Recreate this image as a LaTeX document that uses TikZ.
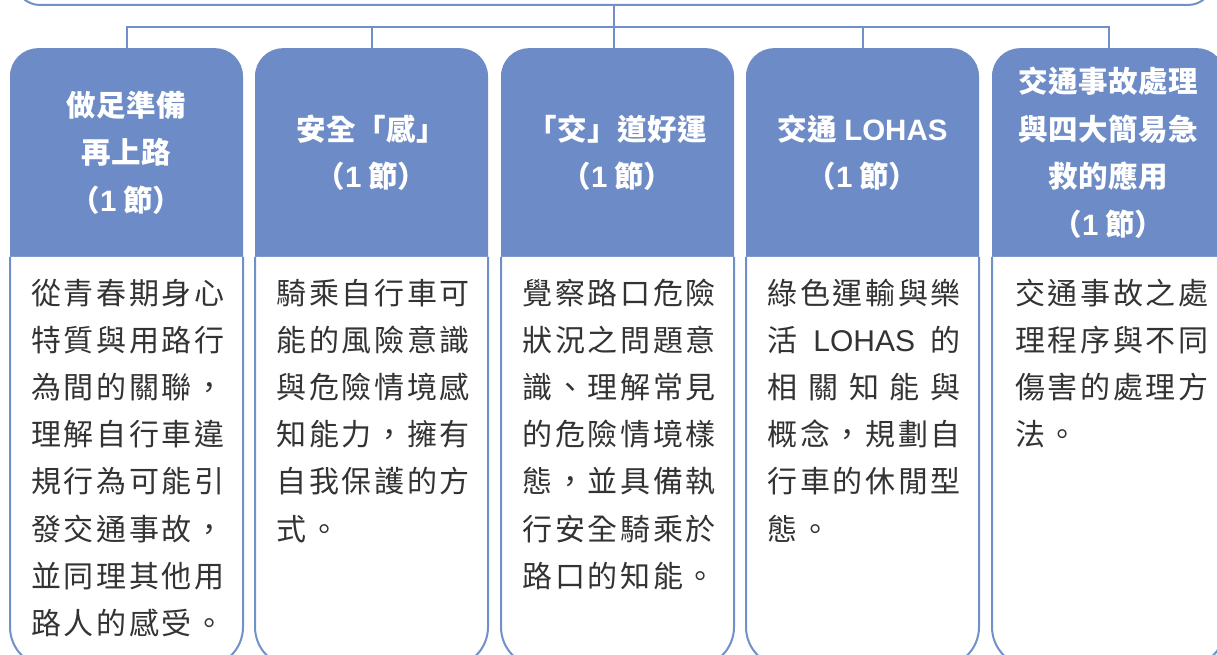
\documentclass[tikz,border=0pt]{standalone}
\usepackage{fontspec}
\newfontfamily\cjk{Noto Sans CJK TC}
\newfontfamily\lat{Liberation Sans}
\definecolor{hdr}{HTML}{6D8BC6}
\definecolor{lnc}{HTML}{7090C8}
\definecolor{txt}{HTML}{333333}
\newlength\cjkpitch
\def\cjkrow#1#2{\setlength\cjkpitch{#1}\cjkrowi#2\relax}
\def\cjkrowi#1{\ifx#1\relax\else\makebox[\cjkpitch][l]{#1}\expandafter\cjkrowi\fi}
\newcommand\hr[1]{\cjkrow{30pt}{#1}}
\newcommand\br[1]{\cjkrow{32.6pt}{#1}}
\newcommand\bodypath[2]{\draw[bodyline] (#1,398) -- (#1,28) arc[start angle=180,end angle=270,radius=40] -- ({#2-40},-12) arc[start angle=270,end angle=360,radius=40] -- (#2,398);}
\begin{document}
\begin{tikzpicture}[x=1pt,y=1pt,
  conn/.style={draw=lnc, line width=2pt},
  hdrbox/.style={fill=hdr, rounded corners=28pt, minimum width=233pt, minimum height=237pt, inner sep=0pt, anchor=north},
  hdrtext/.style={text=white, font=\cjk\bfseries\fontsize{29.5}{47.5}\selectfont, align=center, inner sep=0pt},
  bodytext/.style={text=txt, font=\cjk\fontsize{30}{47.1}\selectfont, align=left, inner sep=0pt, anchor=north west},
  bodyline/.style={draw=lnc, line width=2pt, fill=white},
  topbox/.style={draw=lnc, line width=2pt, fill=white, rounded corners=25pt, minimum width=1198pt, minimum height=80pt, anchor=south}]
\clip (0,0) rectangle (1217,655);
\node[topbox] (top) at (614,649) {};
% headers
\node[hdrbox] (h1) at (126.5,607) {};
\node[hdrbox] (h2) at (371.5,607) {};
\node[hdrbox] (h3) at (617.5,607) {};
\node[hdrbox] (h4) at (862.5,607) {};
\node[hdrbox] (h5) at (1108.5,607) {};
% bodies
\bodypath{10}{243}
\bodypath{255}{488}
\bodypath{501}{734}
\bodypath{746}{979}
\bodypath{992}{1225}
% header texts
\node[hdrtext] (t1) at (126.5,502.5) {\hr{做足準備}\\\hr{再上路}\\（{\lat 1} 節）};
\node[hdrtext] (t2) at (371.5,502.5) {\hr{安全「感」}\\（{\lat 1} 節）};
\node[hdrtext] (t3) at (617.5,502.5) {\hr{「交」道好運}\\（{\lat 1} 節）};
\node[hdrtext] (t4) at (862.5,502.5) {\hr{交通} {\lat LOHAS}\\（{\lat 1} 節）};
\node[hdrtext] (t5) at (1108.5,502.5) {\hr{交通事故處理}\\\hr{與四大簡易急}\\\hr{救的應用}\\（{\lat 1} 節）};
% body texts
\node[bodytext] (b1) at (31,383.6) {\strut\br{從青春期身心}\\\br{特質與用路行}\\\br{為間的關聯，}\\\br{理解自行車違}\\\br{規行為可能引}\\\br{發交通事故，}\\\br{並同理其他用}\\\br{路人的感受。}};
\node[bodytext] (b2) at (276.5,383.6) {\strut\br{騎乘自行車可}\\\br{能的風險意識}\\\br{與危險情境感}\\\br{知能力，擁有}\\\br{自我保護的方}\\\br{式。}};
\node[bodytext] (b3) at (522.5,383.6) {\strut\br{覺察路口危險}\\\br{狀況之問題意}\\\br{識、理解常見}\\\br{的危險情境樣}\\\br{態，並具備執}\\\br{行安全騎乘於}\\\br{路口的知能。}};
\node[bodytext] (b4) at (767.5,383.6) {\strut\br{綠色運輸與樂}\\\makebox[193pt][s]{活\hfil{\lat LOHAS}\hfil 的}\\\makebox[193pt][s]{相\hfil 關\hfil 知\hfil 能\hfil 與}\\\br{概念，規劃自}\\\br{行車的休閒型}\\\br{態。}};
\node[bodytext] (b5) at (1015,383.6) {\strut\br{交通事故之處}\\\br{理程序與不同}\\\br{傷害的處理方}\\\br{法。}};
% connectors
\coordinate (bar) at (0,628);
\draw[conn] (top.south) -- (top.south |- h3.north);
\draw[conn] (h1.north) -- (h1.north |- bar) -- (h5.north |- bar) -- (h5.north);
\draw[conn] (h2.north) -- (h2.north |- bar);
\draw[conn] (h4.north) -- (h4.north |- bar);
\end{tikzpicture}
\end{document}
